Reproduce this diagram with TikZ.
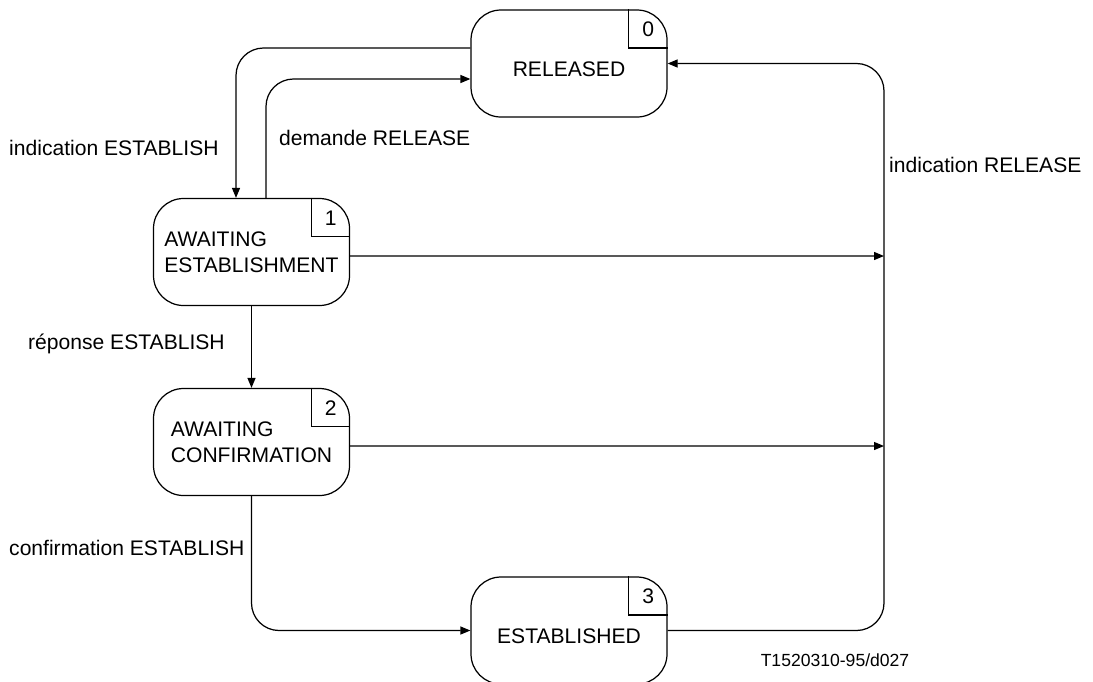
\documentclass[tikz,border=0pt]{standalone}
\usepackage{fontspec}
\setmainfont{Liberation Sans}
\usepackage{xcolor}
\usepackage{tikz}
\usetikzlibrary{positioning,arrows.meta}

\begin{document}
\begin{tikzpicture}[>={Triangle[length=0.2cm,width=0.16cm]},
	every node/.style={font=\fontsize{12}{14.5}\selectfont},
	state/.style={draw, line width=0.7pt, rounded corners=0.6cm, minimum width=3.92cm, minimum height=2.14cm, inner sep=0pt, align=left},
	trans/.style={->, line width=0.7pt, rounded corners=0.55cm}]
	\useasboundingbox (0,0) rectangle (21.86,-13.62);

	\node[state, text height=0.54cm] (released) at (11.38,-1.27) {RELEASED};
	\node[state] (awaitEst) at (5.03,-5.04) {AWAITING\\ESTABLISHMENT};
	\node[state] (awaitConf) at (5.03,-8.84) {AWAITING\\CONFIRMATION};
	\node[state, text height=0.54cm] (established) at (11.38,-12.61) {ESTABLISHED};

	% state numbers
	\draw[line width=0.7pt] ([xshift=-0.78cm]released.north east) |- ([yshift=-0.77cm]released.north east);
	\node (num0) at ([xshift=-0.39cm,yshift=-0.4cm]released.north east) {0};
	\draw[line width=0.7pt] ([xshift=-0.78cm]awaitEst.north east) |- ([yshift=-0.77cm]awaitEst.north east);
	\node (num1) at ([xshift=-0.39cm,yshift=-0.4cm]awaitEst.north east) {1};
	\draw[line width=0.7pt] ([xshift=-0.78cm]awaitConf.north east) |- ([yshift=-0.77cm]awaitConf.north east);
	\node (num2) at ([xshift=-0.39cm,yshift=-0.4cm]awaitConf.north east) {2};
	\draw[line width=0.7pt] ([xshift=-0.78cm]established.north east) |- ([yshift=-0.77cm]established.north east);
	\node (num3) at ([xshift=-0.39cm,yshift=-0.4cm]established.north east) {3};

	% bus on the right
	\coordinate (busTop) at (17.68,-1.27);
	\coordinate (busEst) at (17.68,-5.12);
	\coordinate (busConf) at (17.68,-8.92);

	\draw[trans] ([yshift=0.31cm]released.west) -| ([xshift=-0.31cm]awaitEst.north);
	\draw[trans] ([xshift=0.29cm]awaitEst.north) |- ([yshift=-0.31cm]released.west);
	\draw[trans] (awaitEst.south) -- (awaitConf.north);
	\draw[trans] (awaitConf.south) |- (established.west);
	\draw[trans] ([yshift=-0.08cm]awaitEst.east) -- (busEst);
	\draw[trans] ([yshift=-0.08cm]awaitConf.east) -- (busConf);
	\draw[trans] (established.east) -| (busTop) -- (released.east);

	% labels
	\node[anchor=west] (lblIndEst) at (0.06,-2.96) {indication ESTABLISH};
	\node[anchor=west] (lblDemRel) at (5.46,-2.76) {demande RELEASE};
	\node[anchor=west] (lblIndRel) at (17.66,-3.3) {indication RELEASE};
	\node[anchor=west] (lblRepEst) at (0.44,-6.88) {réponse ESTABLISH};
	\node[anchor=west] (lblConfEst) at (0.06,-10.96) {confirmation ESTABLISH};
	\node[font=\fontsize{10}{12}\selectfont] (ref) at (16.7,-13.2) {T1520310-95/d027};
\end{tikzpicture}
\end{document}
